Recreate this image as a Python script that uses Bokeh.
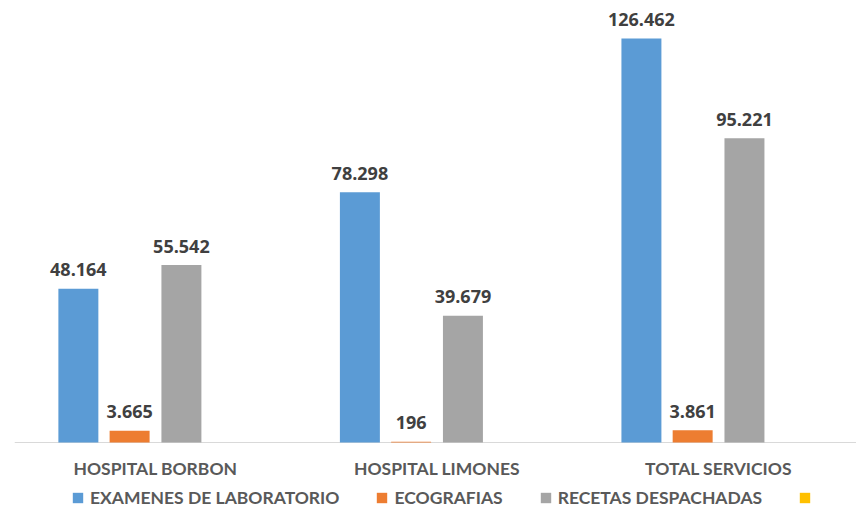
from bokeh.plotting import figure
from bokeh.models import ColumnDataSource, Range1d, Legend, LegendItem
from bokeh.core.properties import value
from bokeh.embed import file_html
from bokeh.resources import INLINE

categories = ["HOSPITAL BORBON", "HOSPITAL LIMONES", "TOTAL SERVICIOS"]
series_names = ["EXAMENES DE LABORATORIO", "ECOGRAFIAS", "RECETAS DESPACHADAS", ""]
examenes = [48164, 78298, 126462]
ecografias = [3665, 196, 3861]
recetas = [55542, 39679, 95221]
cuarta = [0, 0, 0]
series_values = [examenes, ecografias, recetas, cuarta]
colors = ["#5B9BD5", "#ED7D31", "#A5A5A5", "#FFC000"]
offsets = [-0.274, -0.092, 0.092, 0.274]
show_labels = [True, True, True, False]

FONT = "Lato"
NUMFONT = "Open Sans"

p = figure(width=856, height=508, output_backend="svg", toolbar_location=None,
           x_range=Range1d(-0.0506, 2.990), y_range=Range1d(-20660, 138358),
           min_border_left=0, min_border_right=0, min_border_top=0, min_border_bottom=0)
p.outline_line_color = None
p.xgrid.visible = False
p.ygrid.visible = False
p.xaxis.visible = False
p.yaxis.visible = False
p.background_fill_color = "white"

centers = [i + 0.5 for i in range(len(categories))]

# baseline (category axis line)
p.segment(x0=[0], x1=[len(categories)], y0=[0], y1=[0], line_color="#D9D9D9", line_width=1)

items = []
for vals, col, off, name, lab in zip(series_values, colors, offsets, series_names, show_labels):
    xs = [c + off for c in centers]
    texts = [f"{v:,}".replace(",", ".") for v in vals]
    src = ColumnDataSource(dict(x=xs, top=vals, txt=texts))
    r = p.vbar(x="x", top="top", bottom=0, width=0.142, source=src, fill_color=col, line_color=None)
    if lab:
        p.text(x="x", y="top", text="txt", source=src, text_align="center", text_baseline="alphabetic",
               y_offset=-19, text_font=value(NUMFONT), text_font_style="bold", text_font_size="18px",
               text_color="#404040")
    items.append(LegendItem(label=value(name), renderers=[r]))

# category labels
p.text(x=centers, y=[0] * len(centers), text=categories, text_align="center", text_baseline="middle",
       y_offset=26, text_font=value(FONT), text_font_style="bold", text_font_size="17.5px",
       text_color="#595959")

legend = Legend(items=items, orientation="horizontal", location=(71, 0),
                glyph_width=13, glyph_height=13, label_standoff=6, spacing=36, label_height=20,
                padding=0, margin=0, border_line_color=None, background_fill_alpha=0,
                label_text_font=FONT, label_text_font_style="bold", label_text_font_size="17.5px",
                label_text_color="#595959")
p.add_layout(legend, "center")

open("out.html", "w").write(file_html(p, INLINE))
